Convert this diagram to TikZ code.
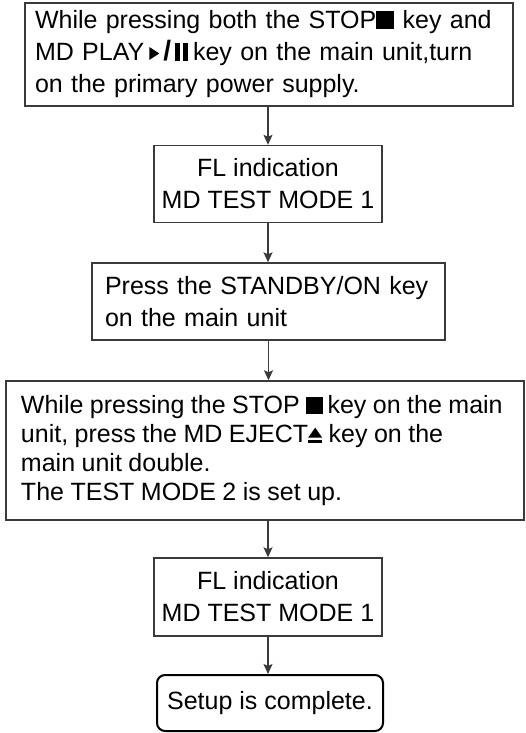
\documentclass[tikz,border=0pt]{standalone}
\usepackage{fontspec}
\setmainfont{Liberation Sans}
\usetikzlibrary{arrows.meta}
\definecolor{ln}{HTML}{3A3A3A}
\newcommand\sqsymA{\rule{18pt}{18pt}}
\newcommand\sqsymB{\rule{17pt}{17pt}}
\newcommand\playsym{\tikz[baseline=0pt,x=1pt,y=1pt]\fill[black] (0,1) -- (0,14) -- (10,7.5) -- cycle;}
\newcommand\pausesym{\rule{5pt}{18pt}\hspace{3pt}\rule{5pt}{18pt}}
\newcommand\ejectsym{\tikz[baseline=0pt,x=1pt,y=1pt]{\fill[black] (0,0) rectangle (14,2.5); \fill[black] (0,5) -- (14,5) -- (7,15) -- cycle;}}
\newcommand\tightsp{\spaceskip=6.5pt plus 1pt minus 1pt\relax}
\begin{document}
\begin{tikzpicture}[x=1pt,y=-1pt,
  box/.style={draw=ln,line width=1.4pt,inner ysep=0pt,text=black},
  fa/.style={font=\fontsize{25}{32}\selectfont},
  fb/.style={font=\fontsize{25}{28.7}\selectfont},
  endbox/.style={draw=black,line width=2pt,rounded corners=8pt,inner ysep=0pt,text=black},
  arr/.style={draw=ln,line width=1.4pt,-{Stealth[length=10pt,width=9pt,inset=2pt]}}]
\useasboundingbox (0,0) rectangle (525,733);
\node[box,fa,minimum width=488pt,minimum height=103pt,text width=468pt,inner xsep=10pt,align=left] (b1) at (269,54.5)
  {While pressing both the STOP\sqsymA\ key and\\MD PLAY\hspace{5pt}\playsym\hspace{4pt}{\fontsize{28}{28}\selectfont\bfseries /}\hspace{4pt}\pausesym\hspace{5pt}key on the main unit,turn\\on the primary power supply.};
\node[box,fa,minimum width=228pt,minimum height=77pt,align=center] (b2) at (268,184)
  {FL indication\\MD TEST MODE 1};
\node[box,fa,minimum width=353pt,minimum height=77pt,text width=327pt,inner xsep=13pt,align=left] (b3) at (268.5,301.5)
  {Press the STANDBY/ON key\\on the main unit};
\node[box,fb,minimum width=518pt,minimum height=139pt,text width=512pt,inner xsep=3pt,align=left] (b4) at (265,450.5)
  {\tightsp\hspace{12pt}While pressing the STOP \sqsymB\,key on the main\\\hspace{12pt}unit, press the MD EJECT\ejectsym\ key on the\\\hspace{12pt}main unit double.\\\hspace{12pt}The TEST MODE 2 is set up.};
\node[box,fa,minimum width=228pt,minimum height=78pt,align=center] (b5) at (268,597)
  {FL indication\\MD TEST MODE 1};
\node[endbox,fa,minimum width=226pt,minimum height=56pt,align=center] (b6) at (270,703)
  {Setup is complete.};
\draw[arr] (b1.south -| b2.north) -- (b2.north);
\draw[arr] (b2.south) -- (b2.south |- b3.north);
\draw[arr] (b3.south) -- (b3.south |- b4.north);
\draw[arr] (b4.south -| b5.north) -- (b5.north);
\draw[arr] (b5.south) -- (b5.south |- b6.north);
\end{tikzpicture}
\end{document}
